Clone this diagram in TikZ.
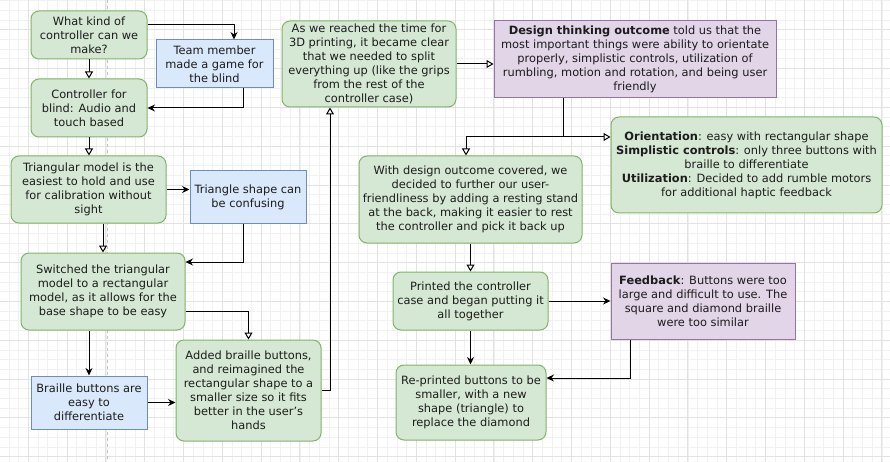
\documentclass[tikz,border=0pt]{standalone}
\usepackage{fontspec}
\setmainfont{DejaVu Sans}
\usetikzlibrary{arrows.meta}
\definecolor{gfill}{HTML}{D5E8D4}
\definecolor{gline}{HTML}{82B366}
\definecolor{bfill}{HTML}{DAE8FC}
\definecolor{bline}{HTML}{6C8EBF}
\definecolor{pfill}{HTML}{E1D5E7}
\definecolor{pline}{HTML}{9673A6}
\definecolor{txt}{HTML}{1C1C1C}
\definecolor{gridminor}{HTML}{F1F1F1}
\definecolor{gridmajor}{HTML}{E2E2E2}
\definecolor{pagebrk}{HTML}{C4C4C4}
\tikzset{
  box/.style={align=center, inner sep=0pt, text=txt, line width=1pt,
    font=\fontsize{11.4}{14}\selectfont},
  gbox/.style={box, draw=gline, fill=gfill, rounded corners=8pt},
  bbox/.style={box, draw=bline, fill=bfill},
  pbox/.style={box, draw=pline, fill=pfill},
  fa/.style={line width=1pt, -{Stealth[length=7.5pt,width=7pt,inset=2.5pt]}},
  ha/.style={line width=1pt, -{Triangle[open,length=7pt,width=8pt,fill=white]}},
  minorline/.style={draw=gridminor, line width=0.8pt},
  majorline/.style={draw=gridmajor, line width=0.9pt},
}
\begin{document}
\begin{tikzpicture}[x=1pt,y=-1pt]
\useasboundingbox (0,0) rectangle (890,462);
\begin{scope}
\clip (0,0) rectangle (890,462);
\fill[white] (0,0) rectangle (890,462);
\foreach \i in {-3,...,89} {\pgfmathsetmacro\xx{28.3+\i*9.7}\draw[minorline] (\xx,0) -- (\xx,462);}
\foreach \i in {-4,...,45} {\pgfmathsetmacro\yy{29.8+\i*9.7}\draw[minorline] (0,\yy) -- (890,\yy);}
\foreach \i in {-1,...,22} {\pgfmathsetmacro\xx{28.3+\i*38.8}\draw[majorline] (\xx,0) -- (\xx,462);}
\foreach \i in {-1,...,11} {\pgfmathsetmacro\yy{29.8+\i*38.8}\draw[majorline] (0,\yy) -- (890,\yy);}
\draw[pagebrk, line width=0.9pt, dash pattern=on 3pt off 3pt] (107,0) -- (107,462);
\end{scope}

\node[gbox, minimum width=116pt, minimum height=48pt] (q) at (89,35) {What kind of\\controller can we\\make?};
\node[bbox, minimum width=117pt, minimum height=48pt] (team) at (214.5,64) {Team member\\made a game for\\the blind};
\node[gbox, minimum width=116pt, minimum height=58pt] (ctrl) at (89,108) {Controller for\\blind: Audio and\\touch based};
\node[gbox, minimum width=155pt, minimum height=67pt] (tri) at (88.5,189.5) {Triangular model is the\\easiest to hold and use\\for calibration without\\sight};
\node[bbox, minimum width=116pt, minimum height=52pt] (conf) at (248,197) {Triangle shape can\\be confusing};
\node[gbox, minimum width=164pt, minimum height=77pt] (switch) at (103,291.5) {Switched the triangular\\model to a rectangular\\model, as it allows for the\\base shape to be easy};
\node[bbox, minimum width=116pt, minimum height=53pt] (braille) at (89,402.5) {Braille buttons are\\easy to\\differentiate};
\node[gbox, minimum width=145pt, minimum height=101pt] (added) at (248.5,390.5) {Added braille buttons,\\and reimagined the\\rectangular shape to a\\smaller size so it fits\\better in the user's\\hands};
\node[gbox, minimum width=174pt, minimum height=86pt] (split) at (369,64) {As we reached the time for\\3D printing, it became clear\\that we needed to split\\everything up (like the grips\\from the rest of the\\controller case)};
\node[pbox, minimum width=282pt, minimum height=77pt] (dto) at (635,59.5) {\textbf{Design thinking outcome} told us that the\\most important things were ability to orientate\\properly, simplistic controls, utilization of\\rumbling, motion and rotation, and being user\\friendly};
\node[gbox, minimum width=223pt, minimum height=87pt] (stand) at (470.5,199.5) {With design outcome covered, we\\decided to further our user-\\friendliness by adding a resting stand\\at the back, making it easier to rest\\the controller and pick it back up};
\node[gbox, minimum width=271pt, minimum height=96pt] (orient) at (746.5,165) {\textbf{Orientation}: easy with rectangular shape\\\textbf{Simplistic controls}: only three buttons with\\braille to differentiate\\\textbf{Utilization}: Decided to add rumble motors\\for additional haptic feedback};
\node[gbox, minimum width=155pt, minimum height=58pt] (printed) at (470.5,301) {Printed the controller\\case and began putting it\\all together};
\node[pbox, minimum width=184pt, minimum height=76pt] (fb) at (703,301) {\textbf{Feedback}: Buttons were too\\large and difficult to use. The\\square and diamond braille\\were too similar};
\node[gbox, minimum width=150pt, minimum height=75pt] (reprint) at (471,402.5) {Re-printed buttons to be\\smaller, with a new\\shape (triangle) to\\replace the diamond};

\coordinate (jn) at (563,137);

\draw[fa] (q.east |- 0,25) -| (team.north -| 234,0);
\draw[ha] (q.south) -- (q.south |- ctrl.north);
\draw[fa] (team.south -| 243,0) |- (ctrl.east);
\draw[ha] (ctrl.south) -- (ctrl.south |- tri.north);
\draw[fa] (tri.east) -- (tri.east -| conf.west);
\draw[ha] (switch.north |- tri.south) -- (switch.north);
\draw[fa] (conf.south -| 243,0) |- (switch.east |- 0,262);
\draw[fa] (braille.north |- switch.south) -- (braille.north);
\draw[ha] (switch.east |- 0,311) -| (added.north);
\draw[fa] (braille.east) -- (braille.east -| added.west);
\draw[ha] (added.east |- 0,390) -| (split.south -| 330,0);
\draw[ha] (split.east) -- (split.east -| dto.west);
\draw (dto.south -| jn) -- (jn);
\draw[ha] (jn) -| (stand.north -| 466,0);
\draw[ha] (jn) -- (jn -| orient.west);
\draw[ha] (printed.north |- stand.south) -- (printed.north);
\draw[fa] (printed.east) -- (printed.east -| fb.west);
\draw[fa] (printed.south) -- (printed.south |- reprint.north);
\draw[fa] (fb.south -| 630,0) |- (reprint.east |- 0,378);
\end{tikzpicture}
\end{document}
